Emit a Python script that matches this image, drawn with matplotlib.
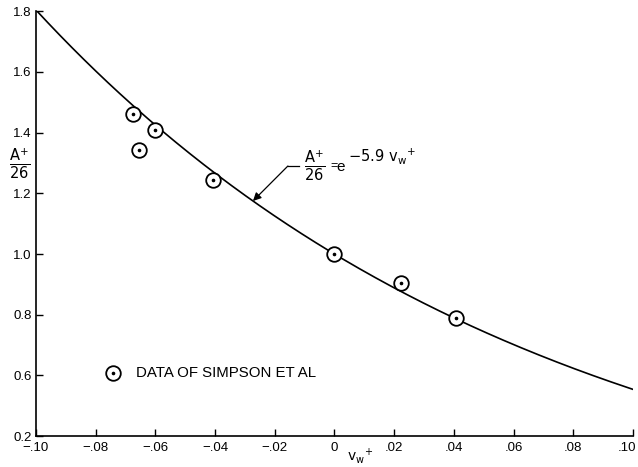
import numpy as np
import matplotlib

matplotlib.use("Agg")
import matplotlib.pyplot as plt
from matplotlib.transforms import ScaledTranslation

plt.rcParams["font.family"] = ["Liberation Sans", "DejaVu Sans"]

# Simpson et al. data points
vw = [-0.0675, -0.0655, -0.0601, -0.0407, 0.0, 0.0223, 0.0407]
a_ratio = [1.461, 1.342, 1.408, 1.244, 1.0, 0.905, 0.789]

# correlation A+/26 = exp(-5.9 vw+)
coef = -5.9
x_ticks = [-0.10, -0.08, -0.06, -0.04, -0.02, 0.0, 0.02, 0.04, 0.06, 0.08, 0.10]
x_labels = ["\u2212.10", "\u2212.08", "\u2212.06", "\u2212.04", "\u2212.02", "0",
            ".02", ".04", ".06", ".08", ".10"]
y_ticks = [0.4, 0.6, 0.8, 1.0, 1.2, 1.4, 1.6, 1.8]
y_labels = ["0.2", "0.6", "0.8", "1.0", "1.2", "1.4", "1.6", "1.8"]

fig = plt.figure(figsize=(6.38, 4.67), dpi=100)
ax = fig.add_axes([0.0564, 0.066, 0.9356, 0.91])

xs = np.linspace(-0.10, 0.10, 300)
ax.plot(xs, np.exp(coef * xs), color="black", lw=1.2)

ax.plot(vw, a_ratio, "o", ms=10.5, mfc="white", mec="black", mew=1.3, ls="none")
ax.plot(vw, a_ratio, "o", ms=1.6, color="black", ls="none")

ax.set_xlim(-0.10, 0.10)
ax.set_ylim(0.4, 1.8)
ax.set_xticks(x_ticks)
ax.set_xticklabels(x_labels)
ax.set_yticks(y_ticks)
ax.set_yticklabels(y_labels)
ax.tick_params(direction="in", length=5, width=1, labelsize=9.5)
ax.tick_params(axis="x", pad=4)
ax.tick_params(axis="y", pad=3)
for side in ["top", "right"]:
    ax.spines[side].set_visible(False)
for side in ["left", "bottom"]:
    ax.spines[side].set_linewidth(1.2)

# keep the last x label inside the figure
last = ax.get_xticklabels()[-1]
last.set_transform(last.get_transform() + ScaledTranslation(-4 / 72, 0, fig.dpi_scale_trans))

# axis labels
ax.text(-0.1055, 1.295, r"$\frac{\mathsf{A^{+}}}{\mathsf{26}}$", fontsize=15,
        ha="center", va="center")
fig.text(360 / 638, 1 / 467, r"$\mathsf{v_w}^{\!+}$", fontsize=10,
         ha="center", va="bottom")

# curve annotation: leader line, arrow and formula
xa = -0.0273
x0, x1, yl = -0.0156, -0.0119, 1.29
ax.annotate("", xy=(xa, np.exp(coef * xa)), xytext=(x0, yl),
            arrowprops=dict(arrowstyle="-|>", color="black", lw=0.9,
                            mutation_scale=12, shrinkA=0, shrinkB=0))
ax.plot([x0, x1], [yl, yl], color="black", lw=0.9)
ax.annotate(r"$\frac{\mathsf{A^{+}}}{\mathsf{26}}$", xy=(x1, yl), xytext=(4, 0),
            textcoords="offset points", fontsize=15, ha="left", va="center")
ax.annotate("=", xy=(x1, yl), xytext=(22.5, 0),
            textcoords="offset points", fontsize=9, ha="left", va="center")
ax.annotate("e", xy=(x1, yl), xytext=(27, -0.5),
            textcoords="offset points", fontsize=11, ha="left", va="center")
ax.annotate(r"$\mathsf{-5.9\ v_w{}^{+}}$", xy=(x1, yl), xytext=(35.5, 7),
            textcoords="offset points", fontsize=10.5, ha="left", va="center")

# legend
ax.plot([-0.0742], [0.608], "o", ms=10.5, mfc="white", mec="black", mew=1.3)
ax.plot([-0.0742], [0.608], "o", ms=1.6, color="black")
ax.text(-0.0665, 0.608, "DATA OF SIMPSON ET AL", fontsize=10.8,
        ha="left", va="center")

fig.savefig("out.png", dpi=100)
